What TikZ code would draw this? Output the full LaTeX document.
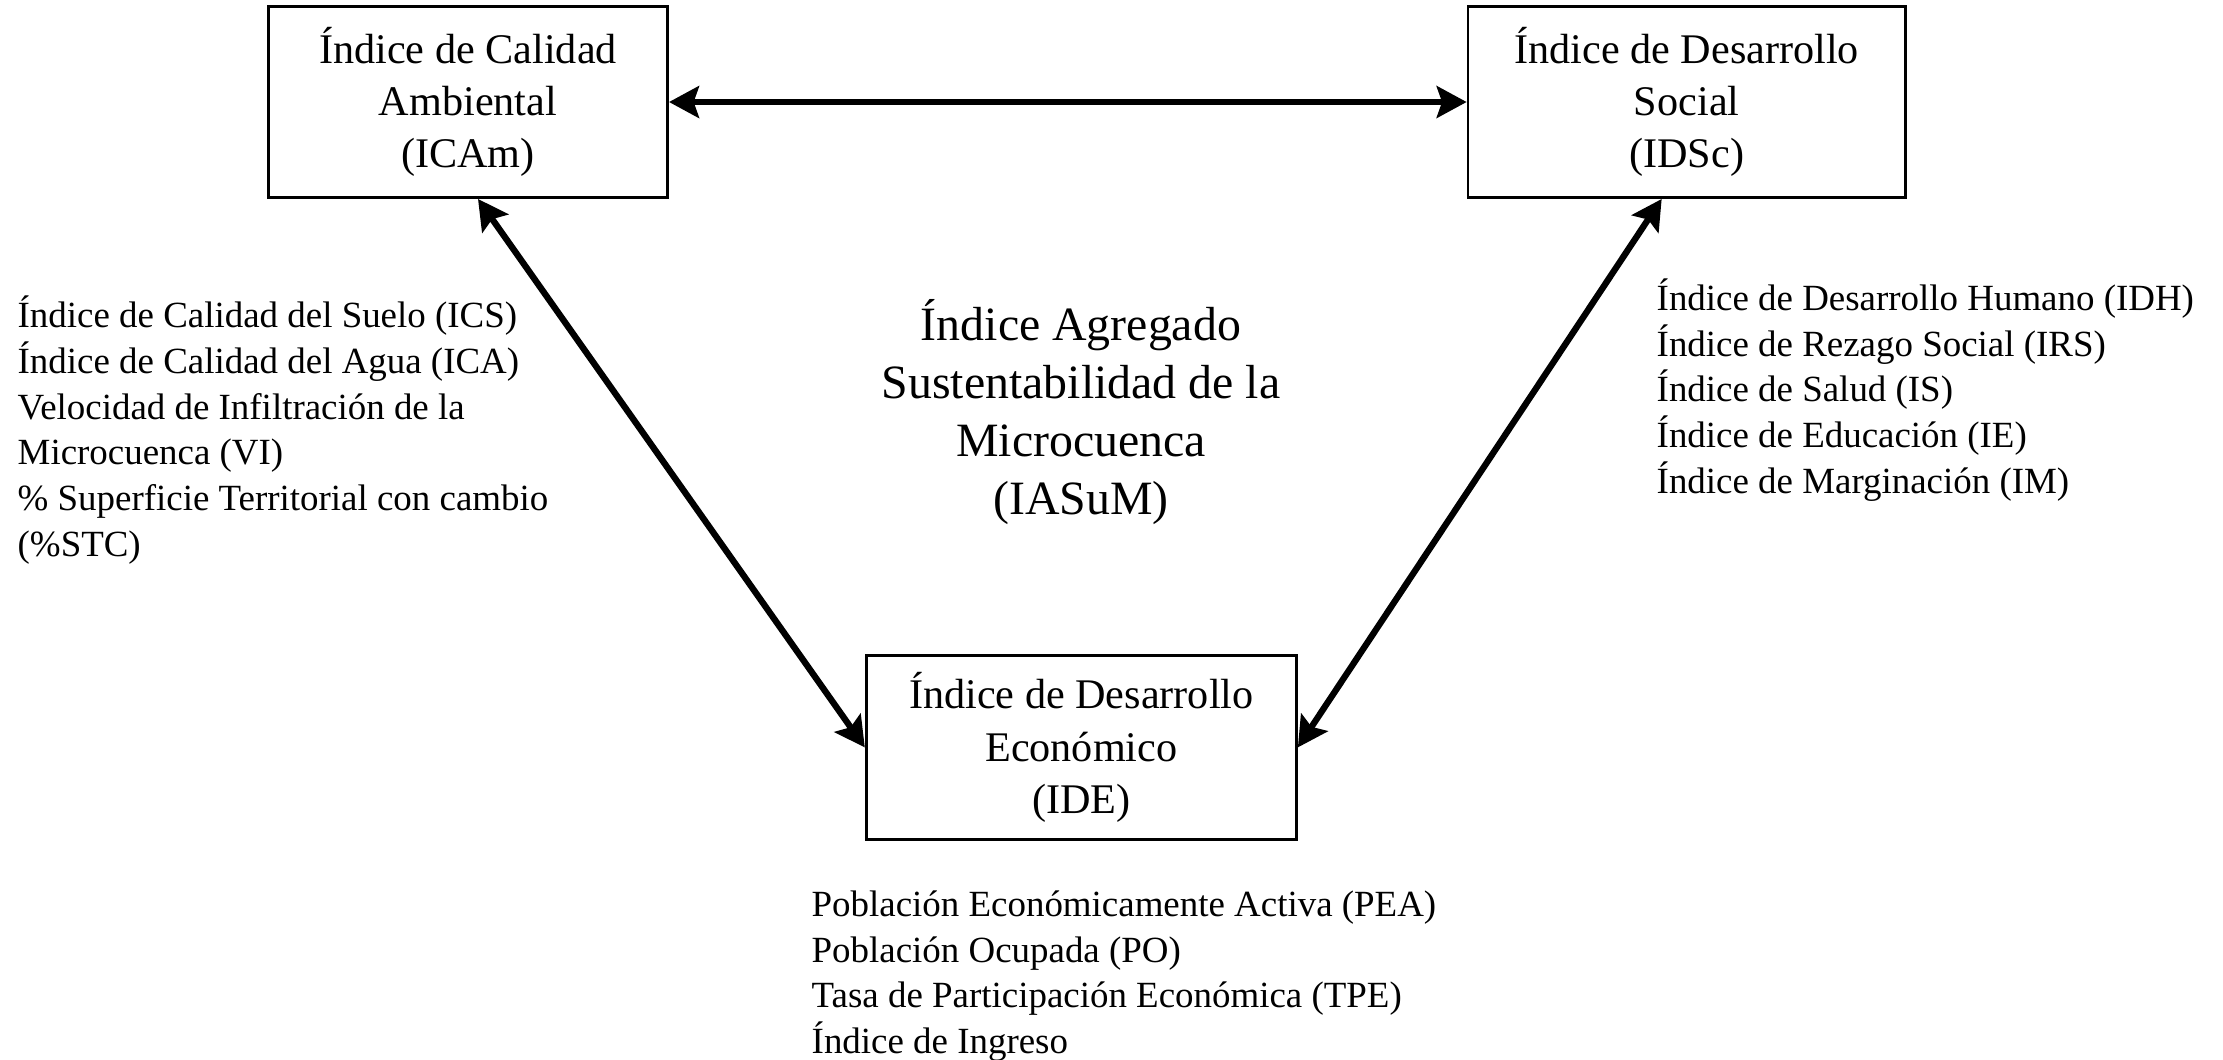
\documentclass[tikz,border=0pt]{standalone}
\usepackage{fontspec}
\setmainfont{Liberation Serif}
\usetikzlibrary{arrows.meta,positioning}

\begin{document}
\begin{tikzpicture}[x=0.01cm,y=-0.01cm,node distance=3cm,on grid]
  \tikzstyle{indice}=[draw,line width=0.8pt,align=center,inner sep=0pt,font=\fontsize{12}{14.8}\selectfont]
  \tikzstyle{lista}=[align=left,inner sep=0pt,font=\fontsize{10.5}{13}\selectfont]
  \tikzstyle{flecha}=[{Stealth[length=8.5pt,width=9pt,inset=1.5pt]}-{Stealth[length=8.5pt,width=9pt,inset=1.5pt]},line width=1.8pt]
  \useasboundingbox (0,0) rectangle (2223,1059);
  \node[indice,minimum width=3.99cm,minimum height=1.91cm] (icam) at (468,102) {Índice de Calidad\\Ambiental\\(ICAm)};
  \node[indice,minimum width=4.37cm,minimum height=1.91cm] (idsc) [right=12.18cm of icam] {Índice de Desarrollo\\Social\\(IDSc)};
  \node[indice,minimum width=4.30cm,minimum height=1.84cm] (ide) [below right=6.45cm and 6.13cm of icam] {Índice de Desarrollo\\Económico\\(IDE)};
  \node[align=center,font=\fontsize{13.6}{16.5}\selectfont] (iasum) at (1081,412) {Índice Agregado\\Sustentabilidad de la\\Microcuenca\\(IASuM)};
  \node[lista,anchor=west] (l_icam) at (17,430) {Índice de Calidad del Suelo (ICS)\\Índice de Calidad del Agua (ICA)\\Velocidad de Infiltración de la\\Microcuenca (VI)\\\% Superficie Territorial con cambio\\(\%STC)};
  \node[lista,anchor=west] (l_idsc) at (1656,390) {Índice de Desarrollo Humano (IDH)\\Índice de Rezago Social (IRS)\\Índice de Salud (IS)\\Índice de Educación (IE)\\Índice de Marginación (IM)};
  \node[lista,anchor=west] (l_ide) at (811,976) {Población Económicamente Activa (PEA)\\Población Ocupada (PO)\\Tasa de Participación Económica (TPE)\\Índice de Ingreso};
  \draw[flecha] (icam.east) -- (idsc.west);
  \draw[flecha] ([xshift=0.1cm]icam.south) -- (ide.west);
  \draw[flecha] ([xshift=-0.25cm]idsc.south) -- (ide.east);
\end{tikzpicture}
\end{document}
